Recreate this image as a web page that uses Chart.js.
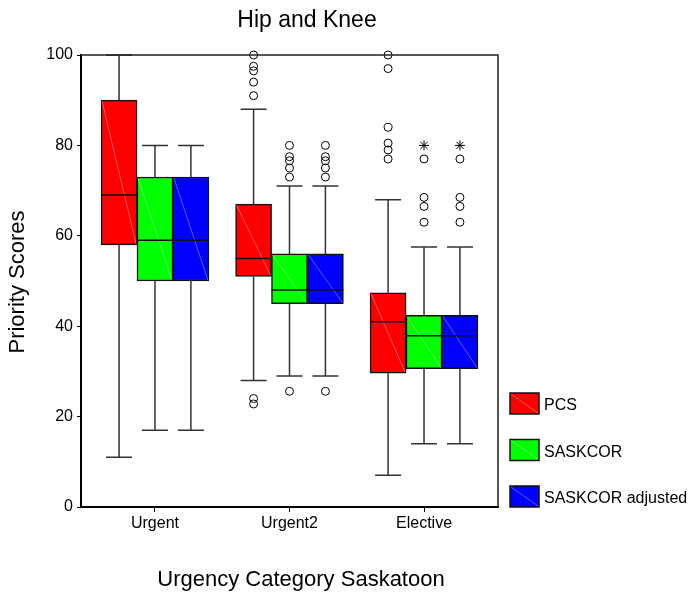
<!DOCTYPE html>
<html lang="en">
<head>
<meta charset="UTF-8">
<title>Hip and Knee</title>
<script src="https://cdn.jsdelivr.net/npm/chart.js"></script>
<style>
    body {
        margin: 0;
        background: #fff;
    }

    .chart-container {
        width: 694px;
        height: 599px;
    }
</style>
</head>
<body>
<div class="chart-container">
    <canvas id="hip-knee" width="694" height="599"></canvas>
</div>

<script>
    const categories = ['Urgent', 'Urgent2', 'Elective'];
    const seriesNames = ['PCS', 'SASKCOR', 'SASKCOR adjusted'];
    const seriesColors = ['#ff0000', '#00ff00', '#0000ff'];
    const yTicks = [0, 20, 40, 60, 80, 100];

    // PCS five-number summaries, one value per category
    const pcsMin = [11, 28, 7];
    const pcsQ1 = [58, 51, 29.6];
    const pcsMedian = [69, 55, 41];
    const pcsQ3 = [90, 67, 47.4];
    const pcsMax = [100, 88, 68];
    const pcsOutliers = [[], [100, 97.5, 96.5, 94, 91, 24, 22.8], [100, 97, 84, 80.5, 79, 77]];
    const pcsExtremes = [[], [], []];

    const saskMin = [17, 29, 14];
    const saskQ1 = [50, 45, 30.6];
    const saskMedian = [59, 48, 37.9];
    const saskQ3 = [73, 56, 42.4];
    const saskMax = [80, 71, 57.5];
    const saskOutliers = [[], [80, 77.5, 76.6, 75, 73, 25.6], [77, 68.5, 66.5, 63]];
    const saskExtremes = [[], [], [80]];

    const adjMin = [17, 29, 14];
    const adjQ1 = [50, 45, 30.6];
    const adjMedian = [59, 48, 37.9];
    const adjQ3 = [73, 56, 42.4];
    const adjMax = [80, 71, 57.5];
    const adjOutliers = [[], [80, 77.5, 76.6, 75, 73, 25.6], [77, 68.5, 66.5, 63]];
    const adjExtremes = [[], [], [80]];

    const series = [
        {min: pcsMin, q1: pcsQ1, med: pcsMedian, q3: pcsQ3, max: pcsMax, out: pcsOutliers, ext: pcsExtremes},
        {min: saskMin, q1: saskQ1, med: saskMedian, q3: saskQ3, max: saskMax, out: saskOutliers, ext: saskExtremes},
        {min: adjMin, q1: adjQ1, med: adjMedian, q3: adjQ3, max: adjMax, out: adjOutliers, ext: adjExtremes}
    ];

    // side-by-side boxes inside each category, in x-axis units
    const boxShift = [-0.267, 0, 0.267];
    const FONT = "'Liberation Sans', Arial, sans-serif";

    const datasets = [];
    series.forEach((s, si) => {
        datasets.push({
            type: 'bar',
            label: seriesNames[si],
            data: categories.map((c, ci) => ({x: ci + 1 + boxShift[si], y: [s.q1[ci], s.q3[ci]]})),
            backgroundColor: seriesColors[si],
            borderColor: '#111',
            borderWidth: 1.5,
            borderSkipped: false,
            grouped: false,
            barThickness: 36
        });
        datasets.push({
            type: 'scatter',
            label: seriesNames[si] + ' outliers',
            data: categories.flatMap((c, ci) => s.out[ci].map(v => ({x: ci + 1 + boxShift[si], y: v}))),
            pointStyle: 'circle',
            pointRadius: 4,
            borderColor: '#000',
            borderWidth: 1,
            backgroundColor: 'rgba(0,0,0,0)',
            clip: false
        });
        datasets.push({
            type: 'scatter',
            label: seriesNames[si] + ' extremes',
            data: categories.flatMap((c, ci) => s.ext[ci].map(v => ({x: ci + 1 + boxShift[si], y: v}))),
            pointStyle: 'star',
            pointRadius: 5,
            borderColor: '#000',
            borderWidth: 1,
            clip: false
        });
    });

    // whiskers, caps, medians and the legend / titles
    const boxParts = {
        id: 'boxParts',
        beforeDatasetsDraw(chart) {
            const {ctx, scales: {x, y}} = chart;
            ctx.save();
            ctx.strokeStyle = '#333';
            ctx.lineWidth = 1.5;
            series.forEach((s, si) => {
                categories.forEach((c, ci) => {
                    const px = x.getPixelForValue(ci + 1 + boxShift[si]);
                    [[s.q3[ci], s.max[ci]], [s.q1[ci], s.min[ci]]].forEach(([from, to]) => {
                        const yTo = y.getPixelForValue(to);
                        ctx.beginPath();
                        ctx.moveTo(px, y.getPixelForValue(from));
                        ctx.lineTo(px, yTo);
                        ctx.moveTo(px - 13, yTo);
                        ctx.lineTo(px + 13, yTo);
                        ctx.stroke();
                    });
                });
            });
            ctx.restore();
        },
        afterDatasetsDraw(chart) {
            const {ctx, scales: {x, y}} = chart;
            ctx.save();
            series.forEach((s, si) => {
                categories.forEach((c, ci) => {
                    const px = x.getPixelForValue(ci + 1 + boxShift[si]);
                    const top = y.getPixelForValue(s.q3[ci]);
                    const bottom = y.getPixelForValue(s.q1[ci]);
                    // faint sheen across the box
                    ctx.strokeStyle = 'rgba(255,255,255,0.35)';
                    ctx.lineWidth = 1;
                    ctx.beginPath();
                    ctx.moveTo(px - 17, top + 1);
                    ctx.lineTo(px + 17, bottom - 1);
                    ctx.stroke();
                    // median
                    const ym = y.getPixelForValue(s.med[ci]);
                    ctx.strokeStyle = '#111';
                    ctx.lineWidth = 1.5;
                    ctx.beginPath();
                    ctx.moveTo(px - 18, ym);
                    ctx.lineTo(px + 18, ym);
                    ctx.stroke();
                });
            });
            ctx.restore();
        },
        afterDraw(chart) {
            const {ctx, chartArea: area} = chart;
            ctx.save();
            // thin frame on the top and right
            ctx.strokeStyle = '#222';
            ctx.lineWidth = 1.5;
            ctx.beginPath();
            ctx.moveTo(area.left, area.top);
            ctx.lineTo(area.right, area.top);
            ctx.lineTo(area.right, area.bottom);
            ctx.stroke();

            // legend
            ctx.font = '16px ' + FONT;
            ctx.textBaseline = 'middle';
            ctx.textAlign = 'left';
            seriesNames.forEach((name, i) => {
                const top = 393 + i * 46.5;
                ctx.fillStyle = seriesColors[i];
                ctx.fillRect(510, top, 29, 21);
                ctx.strokeStyle = 'rgba(255,255,255,0.35)';
                ctx.lineWidth = 1;
                ctx.beginPath();
                ctx.moveTo(511, top + 1);
                ctx.lineTo(538, top + 20);
                ctx.stroke();
                ctx.strokeStyle = '#111';
                ctx.lineWidth = 1.5;
                ctx.strokeRect(510, top, 29, 21);
                ctx.fillStyle = '#000';
                ctx.fillText(name, 544, top + 13);
            });

            // titles
            ctx.textAlign = 'center';
            ctx.font = '23px ' + FONT;
            ctx.fillText('Hip and Knee', 307, 21);
            ctx.font = '22px ' + FONT;
            ctx.fillText('Urgency Category Saskatoon', 301, 580);
            ctx.translate(18, 282);
            ctx.rotate(-Math.PI / 2);
            ctx.fillText('Priority Scores', 0, 0);
            ctx.restore();
        }
    };

    new Chart(document.getElementById('hip-knee'), {
        type: 'bar',
        data: {datasets},
        options: {
            responsive: false,
            animation: false,
            layout: {
                padding: {top: 55, right: 196, left: 0, bottom: 0}
            },
            plugins: {
                legend: {display: false},
                tooltip: {enabled: false}
            },
            scales: {
                x: {
                    type: 'linear',
                    min: 0.45,
                    max: 3.55,
                    offset: false,
                    afterFit: (scale) => { scale.height = 92; },
                    afterBuildTicks: (scale) => {
                        scale.ticks = categories.map((c, i) => ({value: i + 1}));
                    },
                    grid: {
                        offset: false,
                        drawOnChartArea: false,
                        drawTicks: true,
                        tickLength: 5,
                        color: '#000'
                    },
                    border: {display: true, width: 2, color: '#000'},
                    ticks: {
                        autoSkip: false,
                        maxRotation: 0,
                        padding: 2,
                        color: '#000',
                        font: {family: FONT, size: 16},
                        callback: (v) => categories[v - 1]
                    }
                },
                y: {
                    min: 0,
                    max: 100,
                    afterFit: (scale) => { scale.width = 81; },
                    afterBuildTicks: (scale) => {
                        scale.ticks = yTicks.map(v => ({value: v}));
                    },
                    grid: {
                        drawOnChartArea: false,
                        drawTicks: true,
                        tickLength: 4,
                        color: '#000'
                    },
                    border: {display: true, width: 2, color: '#000'},
                    ticks: {
                        padding: 4,
                        color: '#000',
                        font: {family: FONT, size: 16}
                    }
                }
            }
        },
        plugins: [boxParts]
    });
</script>
</body>
</html>
